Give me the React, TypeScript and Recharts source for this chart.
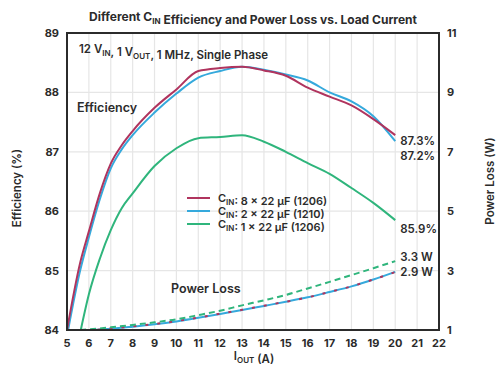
import React from 'react';
import {
  ComposedChart,
  Line,
  XAxis,
  YAxis,
  CartesianGrid,
  ReferenceArea,
} from 'recharts';

// efficiency (%) vs load current (A)
const eff8x1206 = [
  { x: 5, y: 84.0 }, { x: 5.6, y: 85.13 }, { x: 6, y: 85.66 }, { x: 6.5, y: 86.3 },
  { x: 7, y: 86.8 }, { x: 7.5, y: 87.11 }, { x: 8, y: 87.35 }, { x: 9, y: 87.74 },
  { x: 10, y: 88.05 }, { x: 11, y: 88.36 }, { x: 12, y: 88.41 },
  { x: 13, y: 88.43 }, { x: 14, y: 88.37 }, { x: 15, y: 88.28 }, { x: 16, y: 88.08 },
  { x: 17, y: 87.93 }, { x: 18, y: 87.78 }, { x: 19, y: 87.55 }, { x: 20, y: 87.28 },
];
const eff2x1210 = [
  { x: 5.05, y: 84.0 }, { x: 5.6, y: 85.0 }, { x: 6, y: 85.56 }, { x: 6.5, y: 86.2 },
  { x: 7, y: 86.72 }, { x: 7.5, y: 87.04 }, { x: 8, y: 87.28 }, { x: 9, y: 87.66 },
  { x: 10, y: 87.98 }, { x: 11, y: 88.25 }, { x: 12, y: 88.36 },
  { x: 13, y: 88.43 }, { x: 14, y: 88.38 }, { x: 15, y: 88.3 }, { x: 16, y: 88.2 },
  { x: 17, y: 88.0 }, { x: 18, y: 87.85 }, { x: 19, y: 87.6 }, { x: 20, y: 87.18 },
];
const eff1x1206 = [
  { x: 5.63, y: 84.0 }, { x: 6, y: 84.6 }, { x: 6.5, y: 85.2 }, { x: 7, y: 85.68 },
  { x: 7.5, y: 86.05 }, { x: 8, y: 86.3 }, { x: 9, y: 86.76 }, { x: 10, y: 87.06 },
  { x: 11, y: 87.23 }, { x: 12, y: 87.25 },
  { x: 13, y: 87.28 }, { x: 14, y: 87.17 }, { x: 15, y: 87.0 }, { x: 16, y: 86.81 },
  { x: 17, y: 86.63 }, { x: 18, y: 86.39 }, { x: 19, y: 86.14 }, { x: 20, y: 85.85 },
];

// power loss (W)
const loss8x1206 = [
  { x: 5.3, y: 1.0 }, { x: 6, y: 1.0 }, { x: 7, y: 1.05 }, { x: 8, y: 1.12 },
  { x: 9, y: 1.2 }, { x: 10, y: 1.3 }, { x: 11, y: 1.42 }, { x: 12, y: 1.55 },
  { x: 13, y: 1.68 }, { x: 14, y: 1.82 }, { x: 15, y: 1.95 }, { x: 16, y: 2.1 },
  { x: 17, y: 2.28 }, { x: 18, y: 2.47 }, { x: 19, y: 2.7 }, { x: 20, y: 2.95 },
];
const loss2x1210 = [
  { x: 5.3, y: 1.0 }, { x: 6, y: 1.0 }, { x: 7, y: 1.04 }, { x: 8, y: 1.11 },
  { x: 9, y: 1.19 }, { x: 10, y: 1.29 }, { x: 11, y: 1.41 }, { x: 12, y: 1.54 },
  { x: 13, y: 1.67 }, { x: 14, y: 1.81 }, { x: 15, y: 1.95 }, { x: 16, y: 2.1 },
  { x: 17, y: 2.28 }, { x: 18, y: 2.47 }, { x: 19, y: 2.7 }, { x: 20, y: 2.96 },
];
const loss1x1206 = [
  { x: 5.6, y: 1.0 }, { x: 6, y: 1.02 }, { x: 7, y: 1.09 }, { x: 8, y: 1.17 },
  { x: 9, y: 1.26 }, { x: 10, y: 1.36 }, { x: 11, y: 1.5 }, { x: 12, y: 1.65 },
  { x: 13, y: 1.83 }, { x: 14, y: 2.0 }, { x: 15, y: 2.18 }, { x: 16, y: 2.4 },
  { x: 17, y: 2.62 }, { x: 18, y: 2.85 }, { x: 19, y: 3.08 }, { x: 20, y: 3.32 },
];

const xTicks = [5, 6, 7, 8, 9, 10, 11, 12, 13, 14, 15, 16, 17, 18, 19, 20, 21, 22];
const effTicks = [84, 85, 86, 87, 88, 89];
const lossTicks = [1, 3, 5, 7, 9, 11];

const legendItems = [
  { n: '8 × 22 µF (1206)', color: '#b0345e' },
  { n: '2 × 22 µF (1210)', color: '#35a9dc' },
  { n: '1 × 22 µF (1206)', color: '#2fb57c' },
];

const RED = '#b0345e';
const BLUE = '#35a9dc';
const GREEN = '#2fb57c';
const INK = '#2b2b2b';
const FONT = 'Inter, "Open Sans", sans-serif';

const tickStyle = { fill: INK, fontSize: 11, fontWeight: 700, fontFamily: FONT };

// renders a text label only at the last point of a series
function endLabel(text: string, len: number, dy: number) {
  return (props: any) => {
    if (props.index !== len - 1) return null;
    return (
      <text
        key="end"
        x={props.x + 5}
        y={props.y + dy}
        fill={INK}
        fontSize={11.5}
        fontWeight={600}
        fontFamily={FONT}
      >
        {text}
      </text>
    );
  };
}

function Sub({ children }: { children: string }) {
  return (
    <>
      <tspan fontSize="8" dy="3">{children}</tspan>
      <tspan dy="-3"></tspan>
    </>
  );
}

export default function App() {
  return (
    <div style={{ position: 'absolute', left: 0, top: 0, width: 500, height: 371, background: '#fff' }}>
      <ComposedChart width={500} height={371} margin={{ top: 33, right: 0, bottom: 0, left: 0 }}>
        <CartesianGrid yAxisId="eff" stroke="#e6e6e6" strokeWidth={1.2} />
        <XAxis
          type="number"
          dataKey="x"
          domain={[5, 22]}
          ticks={xTicks}
          interval={0}
          height={41}
          tickSize={7}
          tickLine={false}
          axisLine={{ stroke: INK, strokeWidth: 2 }}
          tick={tickStyle}
          allowDuplicatedCategory={false}
        />
        <YAxis
          yAxisId="eff"
          domain={[84, 89]}
          ticks={effTicks}
          width={67}
          tickSize={6}
          tickLine={false}
          axisLine={{ stroke: INK, strokeWidth: 2 }}
          tick={tickStyle}
        />
        <YAxis
          yAxisId="loss"
          orientation="right"
          domain={[1, 11]}
          ticks={lossTicks}
          width={61}
          tickSize={6}
          tickLine={false}
          axisLine={{ stroke: INK, strokeWidth: 2 }}
          tick={{ ...tickStyle, textAnchor: 'start' }}
        />
        <ReferenceArea yAxisId="eff" x1={5} x2={22} y1={84} y2={89} fill="none" stroke={INK} strokeWidth={2} />

        <Line yAxisId="loss" data={loss2x1210} dataKey="y" type="monotone" stroke={BLUE} strokeWidth={2} dot={false} isAnimationActive={false}
          label={endLabel('2.9 W', loss2x1210.length, 4)} />
        <Line yAxisId="loss" data={loss8x1206} dataKey="y" type="monotone" stroke={RED} strokeWidth={2} strokeDasharray="3 9" dot={false} isAnimationActive={false} />
        <Line yAxisId="loss" data={loss1x1206} dataKey="y" type="monotone" stroke={GREEN} strokeWidth={2} strokeDasharray="6 4" dot={false} isAnimationActive={false}
          label={endLabel('3.3 W', loss1x1206.length, 0)} />

        <Line yAxisId="eff" data={eff1x1206} dataKey="y" type="monotone" stroke={GREEN} strokeWidth={2} dot={false} isAnimationActive={false}
          label={endLabel('85.9%', eff1x1206.length, 13)} />
        <Line yAxisId="eff" data={eff2x1210} dataKey="y" type="monotone" stroke={BLUE} strokeWidth={2} dot={false} isAnimationActive={false}
          label={endLabel('87.2%', eff2x1210.length, 19)} />
        <Line yAxisId="eff" data={eff8x1206} dataKey="y" type="monotone" stroke={RED} strokeWidth={2} dot={false} isAnimationActive={false}
          label={endLabel('87.3%', eff8x1206.length, 10)} />
      </ComposedChart>

      <svg
        width={500}
        height={371}
        style={{ position: 'absolute', left: 0, top: 0, pointerEvents: 'none' }}
        fontFamily={FONT}
        fill={INK}
      >
        <text x={253} y={21} textAnchor="middle" fontSize={12} fontWeight={700}>
          Different C<Sub>IN</Sub> Efficiency and Power Loss vs. Load Current
        </text>
        <text x={79} y={53} fontSize={11.5} fontWeight={600}>
          12 V<Sub>IN</Sub>, 1 V<Sub>OUT</Sub>, 1 MHz, Single Phase
        </text>
        <text x={77} y={112} fontSize={12.5} fontWeight={600}>Efficiency</text>
        <text x={171} y={293} fontSize={12.5} fontWeight={600}>Power Loss</text>

        <text transform="translate(21,188) rotate(-90)" textAnchor="middle" fontSize={11.5} fontWeight={600}>
          Efficiency (%)
        </text>
        <text transform="translate(494,181) rotate(-90)" textAnchor="middle" fontSize={11.5} fontWeight={600}>
          Power Loss (W)
        </text>
        <text x={254} y={360} textAnchor="middle" fontSize={11.5} fontWeight={600}>
          I<Sub>OUT</Sub> (A)
        </text>

        {legendItems.map((it, i) => (
          <g key={it.n}>
            <line x1={187} x2={210} y1={198 + i * 13} y2={198 + i * 13} stroke={it.color} strokeWidth={2} />
            <text x={218} y={202 + i * 13} fontSize={11} fontWeight={600}>
              C<Sub>IN</Sub>: {it.n}
            </text>
          </g>
        ))}
      </svg>
    </div>
  );
}
